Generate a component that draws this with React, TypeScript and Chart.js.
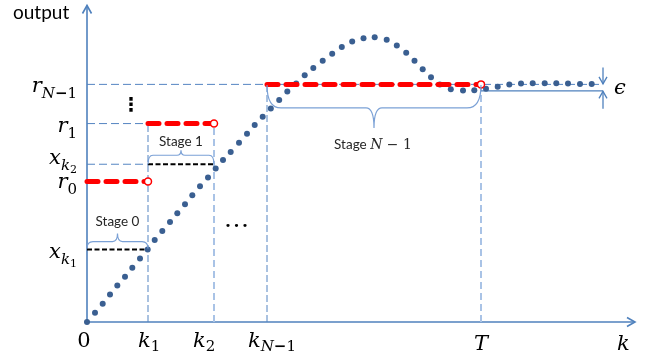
import React, { useEffect, useRef } from 'react';
import { Chart, registerables } from 'chart.js';
Chart.register(...registerables);

// ---- data (chart units: k along x, output along y) ----
const stageK = [0, 61, 127, 180, 394]; // 0, k1, k2, k_{N-1}, T
const refOut = [141.5, 200, 239.5]; // r0, r1, r_{N-1}
const xkOut = [73, 159]; // x_{k1}, x_{k2}
const epsLow = 233;
const settleEnd = 516;
const kMax = 548;
const outMax = 319;

const outputK = [0, 8, 15.7, 23, 30.3, 38, 45.3, 53, 60.7, 67.7, 75.3, 83, 90.3, 98, 105.3, 113, 121, 128.7, 136, 143.7,
  152, 160, 167.7, 175.7, 183.8, 192.2, 200.3, 209.2, 217.7, 226.3, 235.7, 245.2, 254.8, 265.2, 276.5, 287.7, 299.7, 309.8, 319.2, 327.5,
  335.7, 344, 352.8, 363.8, 376, 387.3, 399, 410.7, 422.3, 434, 445.7, 457.7, 469.3, 481, 493, 504.7];
const outputY = [0, 9.3, 18.3, 27.7, 36.7, 45.7, 54.7, 64, 73, 82.7, 91.7, 100.7, 109.7, 118.7, 127.7, 136.7, 145.7, 154.7, 163.3, 171.3,
  180.7, 189.7, 198.5, 206.8, 215.3, 223.8, 232.2, 240.5, 248.7, 256, 263.3, 270.3, 277.2, 282.7, 286, 287, 284.5, 278.8, 271.5, 263.2,
  254.8, 246.8, 239.3, 234.7, 233.3, 233.5, 235, 237, 239.3, 240.3, 240.7, 240.7, 240.7, 240.3, 240, 240];

const xLabelMain = ['0', 'k', 'k', 'k', 'T', 'k'];
const xLabelSub = ['', '1', '2', 'N−1', '', ''];
const xLabelAt = [0, 61, 127, 180, 394, 530];

const yLabelMain = ['x', 'r', 'x', 'r', 'r'];
const yLabelSub = ['k', '0', 'k', '1', 'N−1'];
const yLabelSubSub = ['1', '', '2', '', ''];
const yLabelAt = [73, 141.5, 159, 200, 239.5];

const stageNames = ['Stage 0', 'Stage 1', 'Stage N − 1'];

// ---- styles ----
const AXIS = '#4F81BD';
const REF = '#5585C2';
const REF_LIGHT = '#A9C3E6';
const BRACE = '#7BA1D6';
const DOT = '#3A5F91';
const RED = '#FF0000';

const SERIF = '"DejaVu Serif"';
const SANS = 'Lato';

type Run = { text: string; font: string; dy: number };

function mathRuns(main: string, sub: string, subsub: string, size: number): Run[] {
  const runs: Run[] = [];
  const isLetter = (c: string) => /[A-Za-z]/.test(c);
  runs.push({ text: main, font: `${isLetter(main) ? 'italic ' : ''}${size}px ${SERIF}`, dy: 0 });
  const subSize = Math.round(size * 0.7);
  for (const ch of sub) {
    runs.push({ text: ch, font: `${isLetter(ch) ? 'italic ' : ''}${ch === '−' ? 'bold ' : ''}${subSize}px ${SERIF}`, dy: 6 });
  }
  if (subsub) runs.push({ text: subsub, font: `${Math.round(size * 0.5)}px ${SERIF}`, dy: 9 });
  return runs;
}

function drawRuns(ctx: CanvasRenderingContext2D, runs: Run[], x: number, y: number, align: string) {
  let w = 0;
  for (const r of runs) { ctx.font = r.font; w += ctx.measureText(r.text).width; }
  let cx = align === 'right' ? x - w : align === 'center' ? x - w / 2 : x;
  ctx.textAlign = 'left';
  ctx.textBaseline = 'alphabetic';
  for (const r of runs) {
    ctx.font = r.font;
    ctx.fillText(r.text, cx, y + r.dy);
    cx += ctx.measureText(r.text).width;
  }
}

function brace(ctx: CanvasRenderingContext2D, x1: number, x2: number, yEnd: number, yMid: number, yTip: number, rEnd: number, rTip: number) {
  const xm = (x1 + x2) / 2;
  ctx.beginPath();
  ctx.moveTo(x1, yEnd);
  ctx.quadraticCurveTo(x1, yMid, x1 + rEnd, yMid);
  ctx.lineTo(xm - rTip, yMid);
  ctx.quadraticCurveTo(xm, yMid, xm, yTip);
  ctx.quadraticCurveTo(xm, yMid, xm + rTip, yMid);
  ctx.lineTo(x2 - rEnd, yMid);
  ctx.quadraticCurveTo(x2, yMid, x2, yEnd);
  ctx.stroke();
}

function arrow(ctx: CanvasRenderingContext2D, x1: number, y1: number, x2: number, y2: number, head: number, spread: number) {
  ctx.beginPath();
  ctx.moveTo(x1, y1);
  ctx.lineTo(x2, y2);
  ctx.stroke();
  const a = Math.atan2(y2 - y1, x2 - x1);
  ctx.beginPath();
  ctx.moveTo(x2 - head * Math.cos(a) + spread * Math.sin(a), y2 - head * Math.sin(a) - spread * Math.cos(a));
  ctx.lineTo(x2, y2);
  ctx.lineTo(x2 - head * Math.cos(a) - spread * Math.sin(a), y2 - head * Math.sin(a) + spread * Math.cos(a));
  ctx.stroke();
}

const diagramPlugin = {
  id: 'diagram',
  beforeDatasetsDraw(chart: any) {
    const ctx = chart.ctx as CanvasRenderingContext2D;
    const xs = chart.scales.x, ys = chart.scales.y;
    const px = (v: number) => xs.getPixelForValue(v);
    const py = (v: number) => ys.getPixelForValue(v);
    ctx.save();
    ctx.strokeStyle = AXIS;
    ctx.lineWidth = 1.6;
    ctx.setLineDash([]);
    arrow(ctx, px(0), py(0), px(0), py(outMax), 8, 4.5);
    arrow(ctx, px(0), py(0), px(kMax), py(0), 8, 4.5);
    ctx.restore();
  },
  afterDatasetsDraw(chart: any) {
    const ctx = chart.ctx as CanvasRenderingContext2D;
    const xs = chart.scales.x, ys = chart.scales.y;
    const px = (v: number) => xs.getPixelForValue(v);
    const py = (v: number) => ys.getPixelForValue(v);
    ctx.save();

    // braces
    ctx.strokeStyle = BRACE;
    ctx.lineWidth = 1.2;
    ctx.setLineDash([]);
    brace(ctx, px(stageK[0]), px(stageK[1]), py(xkOut[0]) - 1, py(xkOut[0]) - 8, py(xkOut[0]) - 16, 6, 5);
    brace(ctx, px(stageK[1]), px(stageK[2]), py(xkOut[1]), py(xkOut[1]) - 9, py(xkOut[1]) - 14, 5, 4);
    brace(ctx, px(stageK[3]), px(stageK[4]), py(refOut[2]) + 0.5, py(refOut[2]) + 23.5, py(refOut[2]) + 43.5, 14, 8);

    // epsilon arrows
    ctx.strokeStyle = AXIS;
    ctx.lineWidth = 1.3;
    const ex = px(settleEnd);
    arrow(ctx, ex, py(refOut[2]) - 17, ex, py(refOut[2]) - 0.5, 7, 4);
    arrow(ctx, ex, py(epsLow) + 18, ex, py(epsLow) + 0.5, 7, 4);

    ctx.fillStyle = '#000';
    // axis label texts
    ctx.font = `19px ${SANS}`;
    ctx.textAlign = 'left';
    ctx.textBaseline = 'alphabetic';
    ctx.fillText('output', 13, 19);

    // y labels
    const yDy = [8, 6.5, 0, 8, 7.5];
    for (let i = 0; i < yLabelMain.length; i++) {
      drawRuns(ctx, mathRuns(yLabelMain[i], yLabelSub[i], yLabelSubSub[i], 21), 77, py(yLabelAt[i]) + yDy[i], 'right');
    }
    // x labels
    const xBase = [347, 347, 347, 347, 350, 350];
    const xAlign = ['center', 'left', 'left', 'left', 'center', 'left'];
    const xOff = [-3, -10, -21, -19, 0, 0];
    for (let i = 0; i < xLabelMain.length; i++) {
      const runs = mathRuns(xLabelMain[i], xLabelSub[i], '', 21).map((r, j) => (j > 0 ? { ...r, dy: 4 } : r));
      drawRuns(ctx, runs, px(xLabelAt[i]) + xOff[i], xBase[i], xAlign[i]);
    }

    // epsilon
    ctx.font = `italic 21px ${SERIF}`;
    ctx.textAlign = 'left';
    ctx.fillText('ϵ', 614, 94);

    // stage labels
    ctx.fillStyle = '#262626';
    ctx.font = `13.5px ${SANS}`;
    ctx.textAlign = 'center';
    ctx.fillText(stageNames[0], (px(stageK[0]) + px(stageK[1])) / 2, py(xkOut[0]) - 24);
    ctx.fillText(stageNames[1], (px(stageK[1]) + px(stageK[2])) / 2, py(xkOut[1]) - 18);
    drawRuns(ctx, [
      { text: 'Stage ', font: `13.5px ${SANS}`, dy: 0 },
      { text: 'N', font: `italic 14px ${SERIF}`, dy: 0 },
      { text: ' − 1', font: `14px ${SERIF}`, dy: 0 },
    ], (px(stageK[3]) + px(stageK[4])) / 2 - 1, py(refOut[2]) + 65, 'center');

    // ellipses
    ctx.fillStyle = '#000';
    ctx.font = `bold 19px "DejaVu Sans"`;
    ctx.textAlign = 'center';
    ctx.fillText('⋮', 131, 111);
    ctx.font = `11px "DejaVu Sans"`;
    ctx.textAlign = 'left';
    (ctx as any).letterSpacing = '2px';
    const bw = ctx.measureText('•').width + 2;
    ctx.fillText('•••', 239.5 - bw * 1.5 + 1, 229);
    (ctx as any).letterSpacing = '0px';
    ctx.restore();
  },
};

function seg(x1: number, y1: number, x2: number, y2: number) {
  return [{ x: x1, y: y1 }, { x: x2, y: y2 }, { x: x2, y: null as any }];
}

export default function App() {
  const ref = useRef<HTMLCanvasElement>(null);
  useEffect(() => {
    if (!ref.current) return;
    const [k0, k1, k2, kN, T] = stageK;
    const [r0, r1, rN] = refOut;
    const [xk1, xk2] = xkOut;
    const lineBase = { type: 'line', pointRadius: 0, fill: false, tension: 0, spanGaps: false, clip: false } as any;
    const chart = new Chart(ref.current, {
      type: 'scatter',
      data: {
        datasets: [
          {
            type: 'scatter', data: [{ x: k1, y: r0 }, { x: k2, y: r1 }, { x: T, y: rN }],
            pointRadius: 3.5, pointBorderWidth: 1.5, pointBackgroundColor: '#fff', pointBorderColor: RED, clip: false,
          } as any,
          {
            ...lineBase, data: [...seg(k0, r0, k1, r0), ...seg(k1, r1, k2, r1), ...seg(kN, rN, T, rN)],
            borderColor: RED, borderWidth: 5, borderDash: [11, 8], borderCapStyle: 'round',
          },
          {
            type: 'scatter', data: outputK.map((k, i) => ({ x: k, y: outputY[i] })),
            pointRadius: 3, pointBorderWidth: 0, pointBackgroundColor: DOT, pointBorderColor: DOT, clip: false,
          } as any,
          {
            ...lineBase, data: [...seg(k0, xk1, k1, xk1), ...seg(k1, xk2, k2, xk2)],
            borderColor: '#000', borderWidth: 2, borderDash: [5, 2.5],
          },
          {
            ...lineBase, data: seg(T, epsLow, settleEnd, epsLow),
            borderColor: AXIS, borderWidth: 1.3,
          },
          {
            ...lineBase, data: [...seg(k0, rN, settleEnd, rN), ...seg(k0, r1, k1, r1), ...seg(k0, xk2, k1, xk2)],
            borderColor: REF, borderWidth: 1, borderDash: [8, 4],
          },
          {
            ...lineBase, data: [...seg(k1, 0, k1, r1), ...seg(kN, 0, kN, rN)],
            borderColor: REF, borderWidth: 1, borderDash: [7, 3],
          },
          {
            ...lineBase, data: [...seg(k2, 0, k2, r1), ...seg(T, 0, T, rN)],
            borderColor: REF_LIGHT, borderWidth: 2, borderDash: [7, 4],
          },
        ],
      },
      options: {
        animation: false,
        responsive: false,
        devicePixelRatio: 1,
        events: [],
        layout: { padding: { left: 87, top: 3, right: 16, bottom: 36 } },
        scales: {
          x: { type: 'linear', min: 0, max: kMax, display: false },
          y: { type: 'linear', min: 0, max: outMax, display: false },
        },
        plugins: { legend: { display: false }, tooltip: { enabled: false } },
      } as any,
      plugins: [diagramPlugin],
    });
    return () => chart.destroy();
  }, []);
  return (
    <div style={{ position: 'fixed', left: 0, top: 0, width: 651, height: 358, background: '#fff' }}>
      <canvas ref={ref} width={651} height={358} style={{ display: 'block' }} />
    </div>
  );
}
